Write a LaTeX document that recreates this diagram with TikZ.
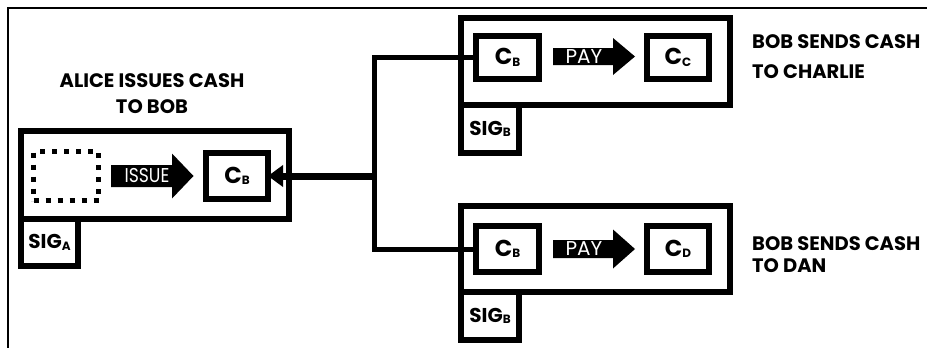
\documentclass[tikz,border=0pt]{standalone}
\usepackage{fontspec}
\setmainfont{Poppins}
\usetikzlibrary{arrows.meta}
\newcommand\lowsub[1]{\raisebox{-1.5pt}{\fontsize{12}{12}\selectfont #1}}
\begin{document}
\begin{tikzpicture}[x=1pt,y=-1pt,
  bigbox/.style={draw,line width=6pt,inner sep=0pt},
  coinbox/.style={draw,line width=6pt,inner sep=0pt,minimum width=62pt,minimum height=46pt,
    font=\fontsize{23}{23}\selectfont\bfseries},
  sigbox/.style={draw,line width=6pt,inner sep=0pt,minimum width=58pt,minimum height=48pt,
    font=\fontsize{20}{20}\selectfont\bfseries},
  heading/.style={inner sep=0pt,font=\fontsize{19.5}{26}\selectfont\bfseries},
  arrowtext/.style={inner sep=0pt,text=white,font=\fontsize{20}{20}\selectfont},
  conn/.style={line width=5pt},
  frame/.style={line width=1.5pt}
]
\useasboundingbox (0,0) rectangle (927,348);
% frame
\coordinate (f1) at (8,348);
\coordinate (f2) at (8,8);
\coordinate (f3) at (927,8);
\draw[frame] (f1) -- (f2) -- (f3);

% ---- left transaction ----
\node[heading,align=center] (hl) at (152,94) {ALICE ISSUES CASH\\TO BOB};
\node[bigbox,minimum width=268pt,minimum height=88pt] (L) at (155,175) {};
\node[sigbox,minimum width=57pt,minimum height=47pt] (sigA) at (49.5,242.5) {SIG\lowsub{A}};
\node[draw,line width=5pt,dash pattern=on 5pt off 7pt,minimum width=65pt,minimum height=49pt,inner sep=0pt] (empty) at (66,176) {};
\fill (111,165) -- (172,165) -- (172,153.5) -- (193.5,176) -- (172,198.5) -- (172,187) -- (111,187) -- cycle;
\node[arrowtext] (issue) at (147,176) {\scalebox{0.86}[1]{ISSUE}};
\node[coinbox] (cbL) at (237,176) {C\lowsub{B}};

% ---- top right transaction ----
\node[bigbox,minimum width=269pt,minimum height=87pt] (T) at (595.5,61.5) {};
\node[sigbox] (sigT) at (490,129) {SIG\lowsub{B}};
\node[coinbox,minimum width=63pt,minimum height=43pt] (cbT) at (507.5,57.5) {C\lowsub{B}};
\fill (553,48) -- (613,48) -- (613,38) -- (635,56.5) -- (613,75) -- (613,65) -- (553,65) -- cycle;
\node[arrowtext] (payT) at (584,56.5) {PAY};
\node[coinbox,minimum height=43pt] (cc) at (678,57.5) {C\lowsub{C}};
\node[heading,align=left,anchor=west,font=\fontsize{19.5}{30}\selectfont\bfseries] (hT) at (752,57) {BOB SENDS CASH\\TO CHARLIE};

% ---- bottom right transaction ----
\node[bigbox,minimum width=269pt,minimum height=86pt] (Bx) at (595.5,249) {};
\node[sigbox] (sigBt) at (490,316) {SIG\lowsub{B}};
\node[coinbox,minimum width=63pt] (cbB) at (507.5,249) {C\lowsub{B}};
\fill (553,240) -- (613,240) -- (613,229.5) -- (635,249) -- (613,268.5) -- (613,258) -- (553,258) -- cycle;
\node[arrowtext] (payB) at (584,249) {PAY};
\node[coinbox] (cd) at (678,249) {C\lowsub{D}};
\node[heading,align=left,anchor=west,font=\fontsize{19.5}{22}\selectfont\bfseries] (hB) at (752,255) {BOB SENDS CASH\\TO DAN};

% ---- connectors ----
\coordinate (j) at (374.5,176);
\draw[conn] (cbT.west) -| (j) |- (cbB.west);
\draw[line width=7pt,-{Triangle[length=15pt,width=21pt]},shorten >=-3pt] (j) -- (cbL.east);
\end{tikzpicture}
\end{document}
